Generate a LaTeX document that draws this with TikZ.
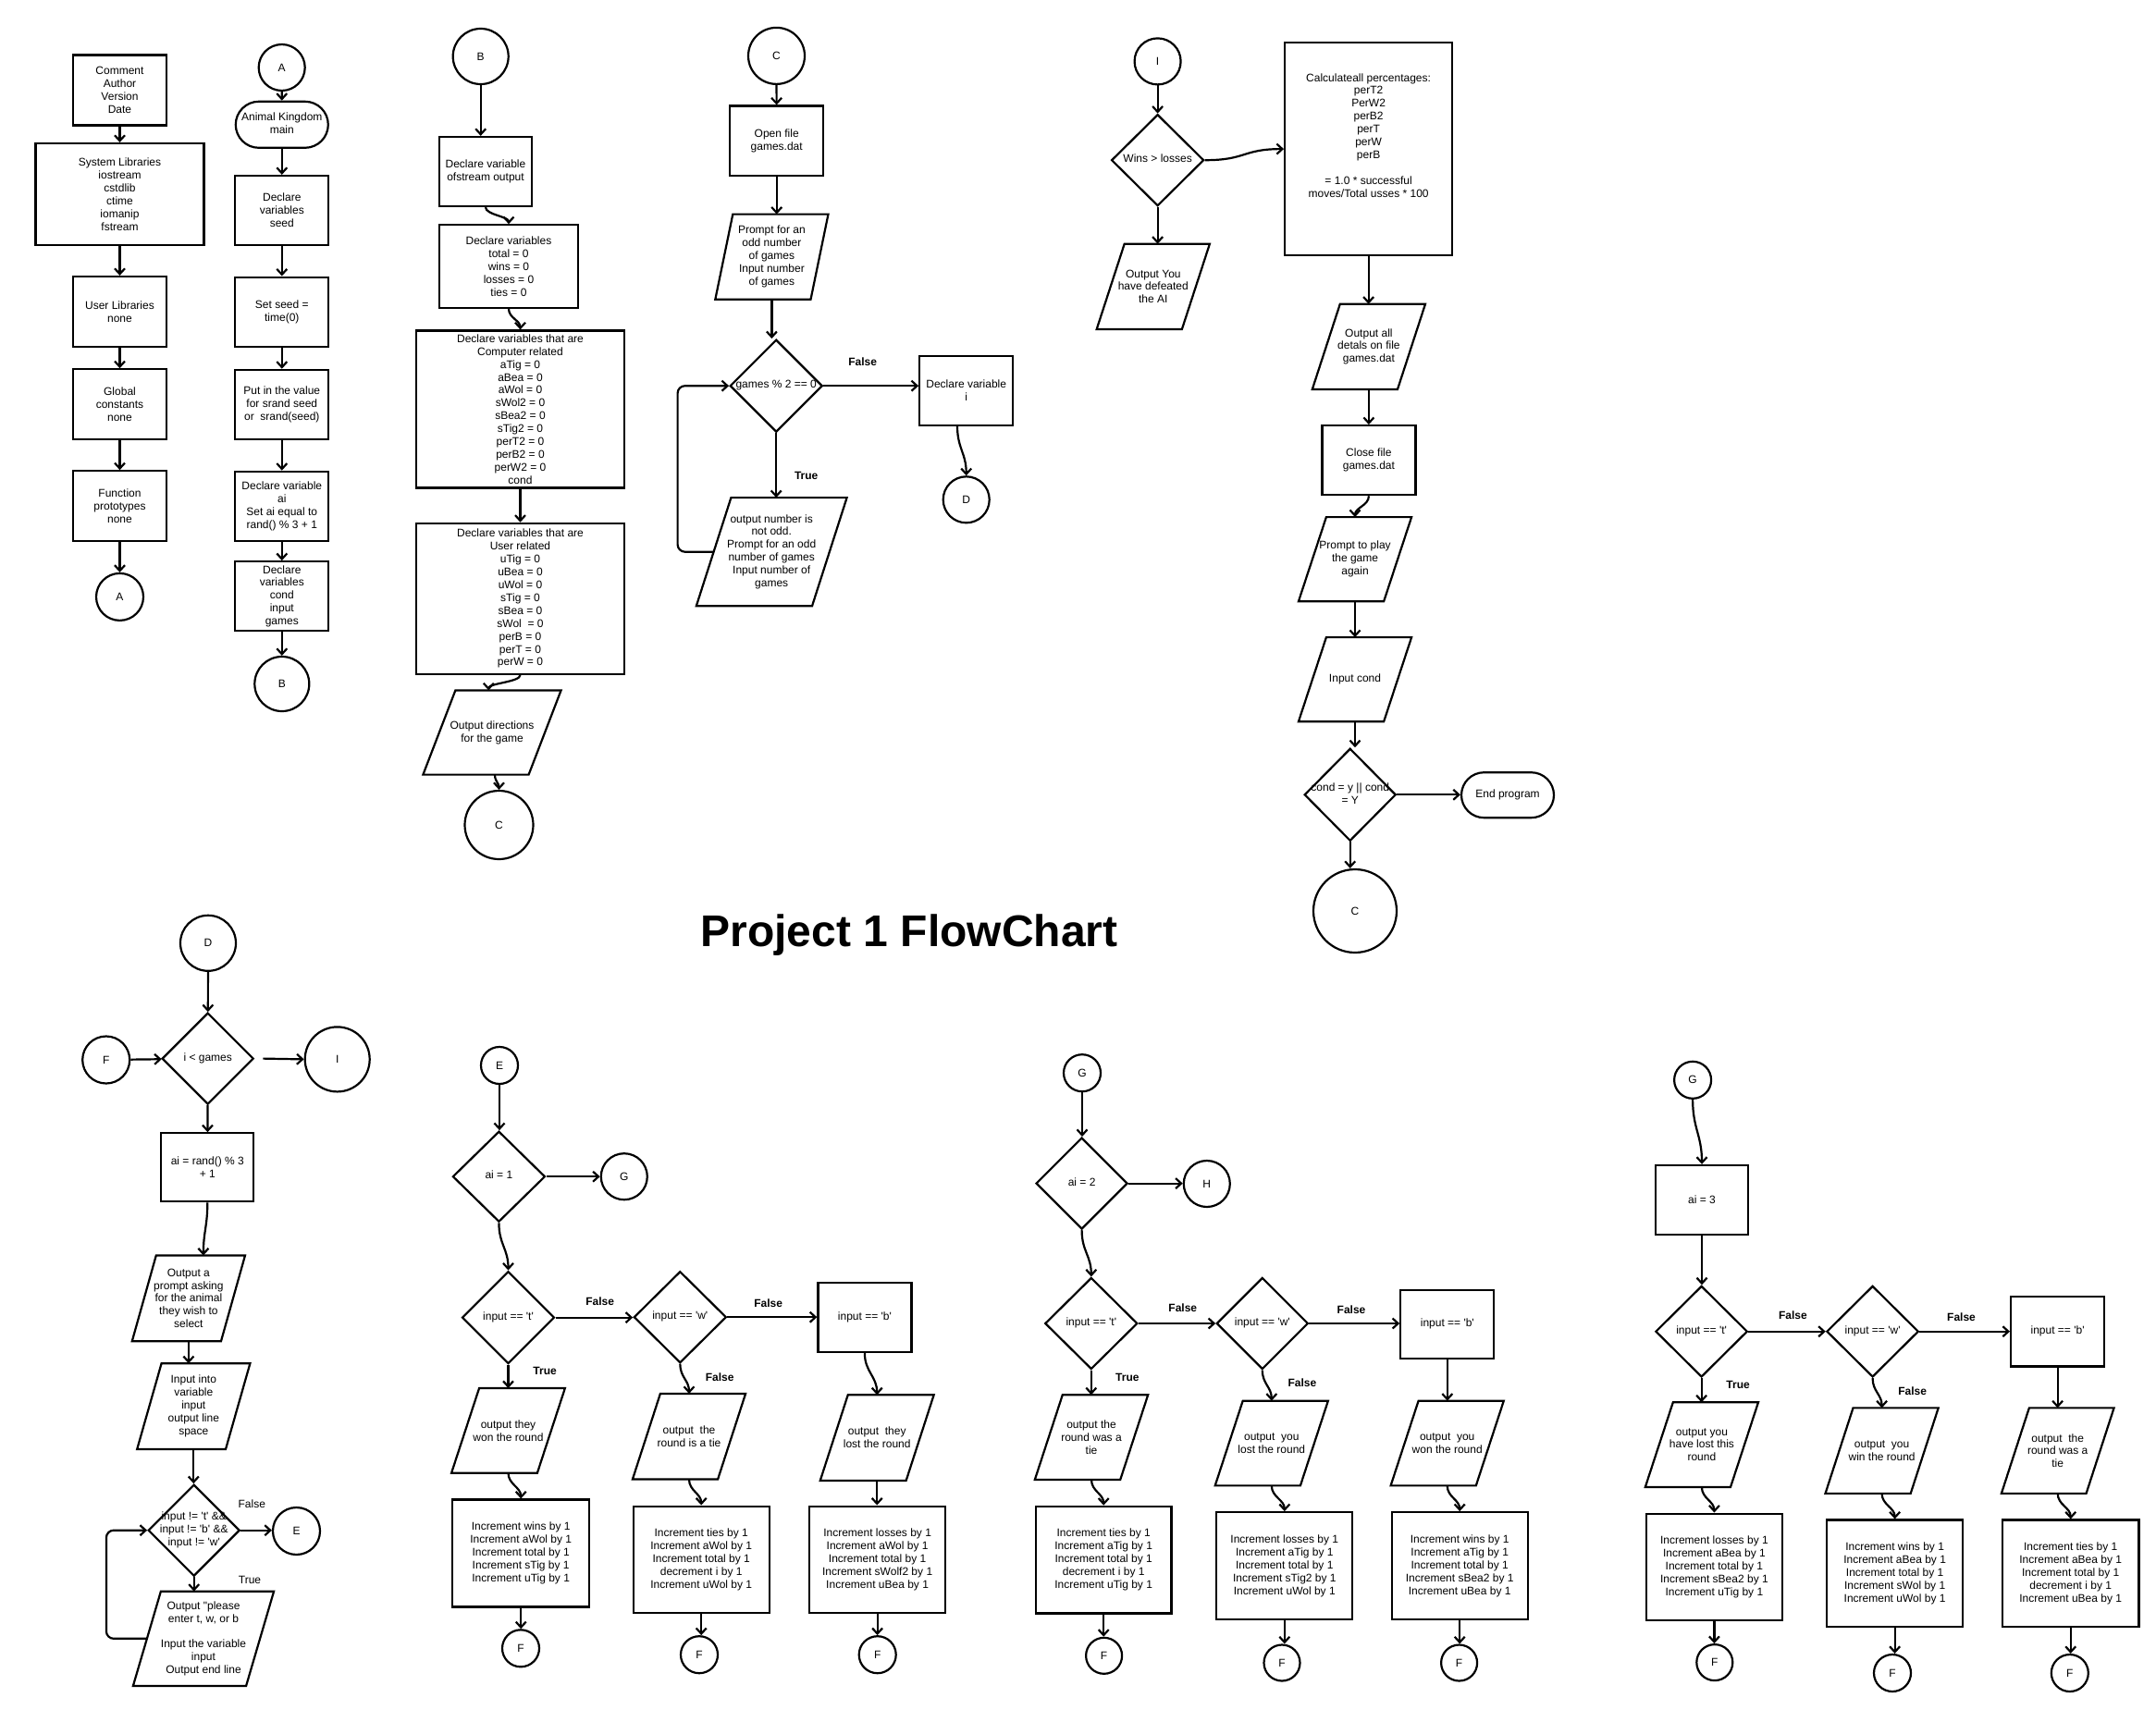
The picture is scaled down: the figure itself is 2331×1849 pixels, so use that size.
\documentclass[tikz,border=0pt]{standalone}
\usepackage{fontspec}
\newfontfamily\ff{Liberation Sans}
\usetikzlibrary{shapes.geometric,shapes.misc,arrows.meta,calc}
\newcommand\zt[1]{\makebox[0pt]{\raisebox{-3pt}[0pt][0pt]{\begin{tabular}{@{}c@{}}#1\end{tabular}}}}
\newcommand\paraline[2]{\draw[shp] ($(#1.north west)+(#2,0)$) -- ($(#1.north east)+(#2,0)$) -- ($(#1.south east)+(-#2,0)$) -- ($(#1.south west)+(-#2,0)$) -- cycle;}
\newcommand\wig[2]{\coordinate (wa) at (#1); \coordinate (wb) at (#2);
  \draw[arr] (wa) .. controls ($(wa)!0.45!(wa |- wb)$) and ($(wb)!0.45!(wb |- wa)$) .. (wb);}
\tikzset{
  base/.style={font=\ff\fontsize{12}{13.9}\selectfont, align=center, inner sep=0pt, line width=2.2pt},
  bx/.style 2 args={base, draw, rectangle, minimum width=#1pt, minimum height=#2pt},
  cir/.style={base, draw, circle, minimum size=#1pt},
  dia/.style 2 args={base, draw, diamond, minimum width=#1pt, minimum height=#2pt},
  term/.style 2 args={base, draw, rounded rectangle, minimum width=#1pt, minimum height=#2pt},
  para/.style 2 args={base, rectangle, minimum width=#1pt, minimum height=#2pt},
  shp/.style={line width=2.2pt, line join=miter},
  arr/.style={line width=2.2pt, -{Straight Barb[length=6pt,width=11pt]}},
  lbl/.style={font=\ff\bfseries\fontsize{12}{14}\selectfont, inner sep=0pt},
  lblr/.style={font=\ff\fontsize{12}{14}\selectfont, inner sep=0pt},
}
\begin{document}
\begin{tikzpicture}[x=1pt,y=-1pt]
\fill[white] (0,0) rectangle (2331,1849);
\useasboundingbox (0,0) rectangle (2331,1849);

% ---------- column 1
\node[bx={101}{76}] (n1) at (129.5,97.5) {Comment\\Author\\Version\\Date};
\node[bx={182}{110}] (n2) at (129.5,210) {System Libraries\\iostream\\cstdlib\\ctime\\iomanip\\fstream};
\node[bx={101}{76}] (n3) at (129.5,337) {User Libraries\\none};
\node[bx={101}{76}] (n4) at (129.5,437.3) {Global\\constants\\none};
\node[bx={101}{76}] (n5) at (129.5,547.3) {Function\\prototypes\\none};
\node[cir=51] (cA1) at (129.5,645.4) {A};
\draw[arr] (n1) -- (n2);
\draw[arr] (n2) -- (n3);
\draw[arr] (n3) -- (n4);
\draw[arr] (n4) -- (n5);
\draw[arr] (n5) -- (cA1);

% ---------- column 2
\node[cir=50] (cA2) at (304.7,73) {A};
\node[term={100}{50}] (m1) at (304.8,134.8) {\zt{Animal Kingdom\\main}};
\node[bx={101}{75}] (m2) at (304.8,227.5) {Declare\\variables\\seed};
\node[bx={101}{75}] (m3) at (304.8,337.1) {Set seed =\\time(0)};
\node[bx={101}{75}] (m4) at (304.8,437.3) {Put in the value\\for srand seed\\or \ srand(seed)};
\node[bx={101}{75}] (m5) at (304.8,547.3) {Declare variable\\ai\\Set ai equal to\\rand() \% 3 + 1};
\node[bx={101}{75}] (m6) at (304.8,644.7) {Declare\\variables\\cond\\input\\games};
\node[cir=59] (cB1) at (304.8,739.5) {B};
\draw[arr] (cA2) -- (m1);
\draw[arr] (m1) -- (m2);
\draw[arr] (m2) -- (m3);
\draw[arr] (m3) -- (m4);
\draw[arr] (m4) -- (m5);
\draw[arr] (m5) -- (m6);
\draw[arr] (m6) -- (cB1);

% ---------- column B
\node[cir=60] (cB2) at (519.7,61) {B};
\node[bx={100}{75}] (b1) at (525,185.5) {Declare variable\\ofstream output};
\node[bx={150}{89.4}] (b2) at (550,288) {Declare variables\\total = 0\\wins = 0\\losses = 0\\ties = 0};
\node[bx={225}{170}] (b3) at (562.5,442.5) {Declare variables that are\\Computer related\\aTig = 0\\aBea = 0\\aWol = 0\\sWol2 = 0\\sBea2 = 0\\sTig2 = 0\\perT2 = 0\\perB2 = 0\\perW2 = 0\\cond};
\node[bx={225}{163}] (b4) at (562.5,647.3) {Declare variables that are\\User related\\uTig = 0\\uBea = 0\\uWol = 0\\sTig = 0\\sBea = 0\\sWol \ = 0\\perB = 0\\perT = 0\\perW = 0};
\node[para={112}{89}] (p1) at (532,792) {Output directions\\for the game};
\paraline{p1}{17.5}
\node[cir=74] (cC1) at (539.5,892) {C};
\draw[arr] (cB2.south) -- (cB2.south |- b1.north);
\wig{b1.south}{b2.north}
\wig{b2.south}{b3.north}
\draw[arr] (b3) -- (b4);
\wig{b4.south}{$(p1.north)+(-3.7,0)$}
\wig{$(p1.south)+(3,0)$}{cC1.north}

% ---------- column C
\node[cir=61] (cC2) at (839.5,60.4) {C};
\node[bx={101}{75.5}] (c1) at (839.7,152.3) {Open file\\games.dat};
\node[para={101}{90}] (p2) at (834.4,277.7) {Prompt for an\\odd number\\of games\\Input number\\of games};
\paraline{p2}{9.5}
\node[dia={100}{100}] (d1) at (839.2,417.2) {\zt{games \% 2 == 0}};
\node[bx={101}{75}] (c2) at (1044.7,422.1) {Declare variable\\i};
\node[cir=50] (cD1) at (1044.7,540.3) {D};
\node[para={123}{115}] (p3) at (834.2,596.7) {output number is\\not odd.\\Prompt for an odd\\number of games\\Input number of\\games};
\paraline{p3}{18.8}
\node[lbl] (lf1) at (932.7,391) {False};
\node[lbl] (lt1) at (871.7,514.6) {True};
\draw[arr] (cC2) -- (c1);
\draw[arr] (c1.south) -- (c1.south |- p2.north);
\draw[arr] (p2.south) -- (p2.south |- d1.north);
\draw[arr] (d1.east) -- (d1.east -| c2.west);
\wig{$(c2.south)+(-9.7,0)$}{cD1.north}
\draw[arr] (d1.south) -- (d1.south |- p3.north);
\draw[arr, rounded corners=8pt] (p3.west) -- ++(-39,0) |- (d1.west);

% ---------- section I
\node[cir=50] (cI1) at (1251.6,66.4) {I};
\node[dia={100}{99}] (i1) at (1251.6,173.2) {\zt{Wins > losses}};
\node[bx={181}{230}] (calc) at (1479.6,161.1) {};
\node[base] (calct) at (1479.6,146.3) {Calculateall percentages:\\perT2\\PerW2\\perB2\\perT\\perW\\perB\\[13.9pt]= 1.0 * successful\\moves/Total usses * 100};
\node[para={90}{90}] (p4) at (1246.8,309.8) {Output You\\have defeated\\the AI};
\paraline{p4}{15}
\node[para={90}{90}] (p5) at (1479.9,374.8) {Output all\\detals on file\\games.dat};
\paraline{p5}{15}
\node[bx={101}{75}] (i2) at (1479.9,497.7) {Close file\\games.dat};
\node[para={90}{89}] (p6) at (1465,604.7) {Prompt to play\\the game\\again};
\paraline{p6}{15}
\node[para={90}{89}] (p7) at (1465,734.7) {Input cond};
\paraline{p7}{15}
\node[dia={99}{100}] (i3) at (1459.7,859.3) {\zt{cond = y || cond\\= Y}};
\node[term={100}{49}] (i4) at (1630,859.7) {\zt{End program}};
\node[cir=90] (cC3) at (1465,985) {C};
\draw[arr] (cI1) -- (i1);
\draw[arr] (i1.east) .. controls +(45,0) and +(-45,0) .. (calc.west);
\draw[arr] (i1.south) -- (i1.south |- p4.north);
\draw[arr] (calc.south) -- (calc.south |- p5.north);
\draw[arr] (p5.south) -- (p5.south |- i2.north);
\wig{i2.south}{p6.north}
\draw[arr] (p6) -- (p7);
\draw[arr] (p7.south) -- (p7.south |- i3.north);
\draw[arr] (i3.east) -- (i3.east -| i4.west);
\draw[arr] (i3.south) -- (i3.south |- cC3.north);

% ---------- title
\node[font=\ff\bfseries\fontsize{48}{56}\selectfont, anchor=base, inner sep=0pt] (title) at (983,1023.3) {Project 1 FlowChart};

% ---------- section D
\node[cir=60] (cD2) at (225,1019.8) {D};
\node[dia={99}{99}] (dd1) at (224.7,1144.6) {\zt{i < games}};
\node[cir=51] (cF0) at (114.7,1146) {F};
\node[cir=70] (cI2) at (364.7,1145.4) {I};
\node[bx={100}{74}] (dd2) at (224.3,1262.3) {ai = rand() \% 3\\+ 1};
\node[para={94}{90.5}] (p8) at (203.9,1403.8) {Output a\\prompt asking\\for the animal\\they wish to\\select};
\paraline{p8}{13}
\node[para={93.6}{90.6}] (p9) at (209.3,1520.6) {Input into\\variable\\input\\output line\\space};
\paraline{p9}{13.2}
\node[dia={99}{99}] (dd3) at (209.7,1654.7) {\zt{input != 't' \&\&\\input != 'b' \&\&\\input != 'w'}};
\node[cir=51] (cE1) at (320.5,1655.5) {E};
\node[para={120}{100}] (p10) at (220,1771.8) {Output "please\\enter t, w, or b\\[13.9pt]Input the variable\\input\\Output end line};
\paraline{p10}{15}
\node[lblr] (lf2) at (272.3,1625.7) {False};
\node[lblr] (lt2) at (270,1708.5) {True};
\draw[arr] (cD2) -- (dd1);
\draw[arr] (cF0) -- (dd1);
\draw[arr] ($(dd1.east)+(9,0)$) -- (cI2.west);
\draw[arr] (dd1) -- (dd2);
\wig{dd2.south}{$(p8.north)+(16,0)$}
\draw[arr] (p8.south) -- (p8.south |- p9.north);
\draw[arr] (p9.south) -- (p9.south |- dd3.north);
\draw[arr] (dd3.east) -- (dd3.east -| cE1.west);
\draw[arr] (dd3.south) -- (dd3.south |- p10.north);
\draw[arr, rounded corners=8pt] (p10.west) -- ++(-44,0) |- (dd3.west);

% ---------- section E
\node[cir=40] (cE2) at (540,1152) {E};
\node[dia={100}{98}] (e1) at (539.4,1272.2) {\zt{ai = 1}};
\node[cir=50] (cG1) at (674.8,1272.2) {G};
\node[dia={100}{100}] (e2) at (549.5,1424.6) {\zt{input == 't'}};
\node[dia={100}{99}] (e3) at (735.3,1424.2) {\zt{input == 'w'}};
\node[bx={101}{75}] (e4) at (934.9,1424.6) {input == 'b'};
\node[para={90.6}{89.5}] (e5) at (549.5,1546.8) {output they\\won the round};
\paraline{e5}{15}
\node[bx={148}{116}] (e6) at (563.2,1679.5) {Increment wins by 1\\Increment aWol by 1\\Increment total by 1\\Increment sTig by 1\\Increment uTig by 1};
\node[cir=40] (cF1) at (563,1782.3) {F};
\node[para={90}{90.4}] (e7) at (745,1553.2) {output \ the\\round is a tie};
\paraline{e7}{15}
\node[bx={147}{115}] (e8) at (758.2,1686.1) {Increment ties by 1\\Increment aWol by 1\\Increment total by 1\\decrement i by 1\\Increment uWol by 1};
\node[cir=40] (cF2) at (756,1789.2) {F};
\node[para={90.7}{90.5}] (e9) at (948.2,1554.6) {output \ they\\lost the round};
\paraline{e9}{15}
\node[bx={147}{115}] (e10) at (948.6,1686.1) {Increment losses by 1\\Increment aWol by 1\\Increment total by 1\\Increment sWolf2 by 1\\Increment uBea by 1};
\node[cir=40] (cF3) at (948.7,1789.2) {F};
\node[lbl] (lf3) at (648.7,1407.4) {False};
\node[lbl] (lf4) at (830.7,1409.3) {False};
\node[lbl] (lt3) at (589.1,1482.7) {True};
\node[lbl] (lf5) at (778.2,1488.7) {False};
\draw[arr] (cE2.south) -- (cE2.south |- e1.north);
\draw[arr] (e1.east) -- (e1.east -| cG1.west);
\wig{e1.south}{e2.north}
\draw[arr] (e2.east) -- (e2.east -| e3.west);
\draw[arr] (e3.east) -- (e3.east -| e4.west);
\draw[arr] (e2.south) -- (e2.south |- e5.north);
\wig{e5.south}{e6.north}
\draw[arr] (e6.south) -- (e6.south |- cF1.north);
\wig{e3.south}{e7.north}
\wig{e7.south}{e8.north}
\draw[arr] (e8.south) -- (e8.south |- cF2.north);
\wig{e4.south}{e9.north}
\draw[arr] (e9.south) -- (e9.south |- e10.north);
\draw[arr] (e10.south) -- (e10.south |- cF3.north);

% ---------- section G / H
\node[cir=40] (cG2) at (1170,1160.2) {G};
\node[dia={99}{99}] (g1) at (1169.6,1279.6) {\zt{ai = 2}};
\node[cir=50] (cH) at (1304.8,1280) {H};
\node[dia={100}{99}] (g2) at (1179.8,1431) {\zt{input == 't'}};
\node[dia={99}{99}] (g3) at (1364.8,1431) {\zt{input == 'w'}};
\node[bx={101}{74.4}] (g4) at (1564.8,1431.8) {input == 'b'};
\node[para={90.2}{89.6}] (g5) at (1180,1554.1) {output the\\round was a\\tie};
\paraline{g5}{15}
\node[bx={146.5}{115.7}] (g6) at (1193.2,1686.6) {Increment ties by 1\\Increment aTig by 1\\Increment total by 1\\decrement i by 1\\Increment uTig by 1};
\node[cir=39] (cF4) at (1193.6,1790.3) {F};
\node[para={90}{89.5}] (g7) at (1374.8,1560.5) {output \ you\\lost the round};
\paraline{g7}{15}
\node[bx={147}{116}] (g8) at (1388.8,1693.2) {Increment losses by 1\\Increment aTig by 1\\Increment total by 1\\Increment sTig2 by 1\\Increment uWol by 1};
\node[cir=39] (cF5) at (1386,1798) {F};
\node[para={90}{89.5}] (g9) at (1564.7,1560.5) {output \ you\\won the round};
\paraline{g9}{15}
\node[bx={147}{116}] (g10) at (1578.2,1693.2) {Increment wins by 1\\Increment aTig by 1\\Increment total by 1\\Increment sBea2 by 1\\Increment uBea by 1};
\node[cir=39] (cF6) at (1577.6,1798) {F};
\node[lbl] (lf6) at (1278.8,1413.8) {False};
\node[lbl] (lf7) at (1461,1416.1) {False};
\node[lbl] (lt4) at (1218.9,1489.6) {True};
\node[lbl] (lf8) at (1407.9,1495.6) {False};
\draw[arr] (cG2.south) -- (cG2.south |- g1.north);
\draw[arr] (g1.east) -- (g1.east -| cH.west);
\wig{g1.south}{g2.north}
\draw[arr] (g2.east) -- (g2.east -| g3.west);
\draw[arr] (g3.east) -- (g3.east -| g4.west);
\draw[arr] (g2.south) -- (g2.south |- g5.north);
\wig{g5.south}{g6.north}
\draw[arr] (g6.south) -- (g6.south |- cF4.north);
\wig{g3.south}{g7.north}
\wig{g7.south}{g8.north}
\draw[arr] (g8.south) -- (g8.south |- cF5.north);
\draw[arr] (g4.south) -- (g4.south |- g9.north);
\wig{g9.south}{g10.north}
\draw[arr] (g10.south) -- (g10.south |- cF6.north);

% ---------- section G (ai = 3)
\node[cir=40] (cG3) at (1830.1,1167.8) {G};
\node[bx={100}{75}] (r1) at (1840,1297.4) {ai = 3};
\node[dia={99.4}{98.6}] (r2) at (1839.6,1439.7) {\zt{input == 't'}};
\node[dia={99.4}{98.6}] (r3) at (2024.6,1439.7) {\zt{input == 'w'}};
\node[bx={101}{75.6}] (r4) at (2224.6,1439.7) {input == 'b'};
\node[para={90}{89.4}] (r5) at (1839.9,1562.1) {output you\\have lost this\\round};
\paraline{r5}{15}
\node[bx={147}{115.6}] (r6) at (1853.4,1694.4) {Increment losses by 1\\Increment aBea by 1\\Increment total by 1\\Increment sBea2 by 1\\Increment uTig by 1};
\node[cir=39] (cF7) at (1853.8,1797.6) {F};
\node[para={90}{90.3}] (r7) at (2034.6,1568.6) {output \ you\\win the round};
\paraline{r7}{15}
\node[bx={147.4}{115.5}] (r8) at (2048.6,1701.3) {Increment wins by 1\\Increment aBea by 1\\Increment total by 1\\Increment sWol by 1\\Increment uWol by 1};
\node[cir=40] (cF8) at (2046,1809) {F};
\node[para={89.5}{90.3}] (r9) at (2224.7,1568.6) {output \ the\\round was a\\tie};
\paraline{r9}{15}
\node[bx={147.4}{115.5}] (r10) at (2238.7,1701.3) {Increment ties by 1\\Increment aBea by 1\\Increment total by 1\\decrement i by 1\\Increment uBea by 1};
\node[cir=40] (cF9) at (2237.8,1809) {F};
\node[lbl] (lf9) at (1938.4,1422) {False};
\node[lbl] (lf10) at (2120.5,1424.4) {False};
\node[lbl] (lt5) at (1879.1,1497.7) {True};
\node[lbl] (lf11) at (2067.7,1503.7) {False};
\wig{cG3.south}{r1.north}
\draw[arr] (r1.south) -- (r1.south |- r2.north);
\draw[arr] (r2.east) -- (r2.east -| r3.west);
\draw[arr] (r3.east) -- (r3.east -| r4.west);
\draw[arr] (r2.south) -- (r2.south |- r5.north);
\wig{r5.south}{r6.north}
\draw[arr] (r6.south) -- (r6.south |- cF7.north);
\wig{r3.south}{r7.north}
\wig{r7.south}{r8.north}
\draw[arr] (r8.south) -- (r8.south |- cF8.north);
\draw[arr] (r4.south) -- (r4.south |- r9.north);
\wig{r9.south}{r10.north}
\draw[arr] (r10.south) -- (r10.south |- cF9.north);
\end{tikzpicture}
\end{document}
